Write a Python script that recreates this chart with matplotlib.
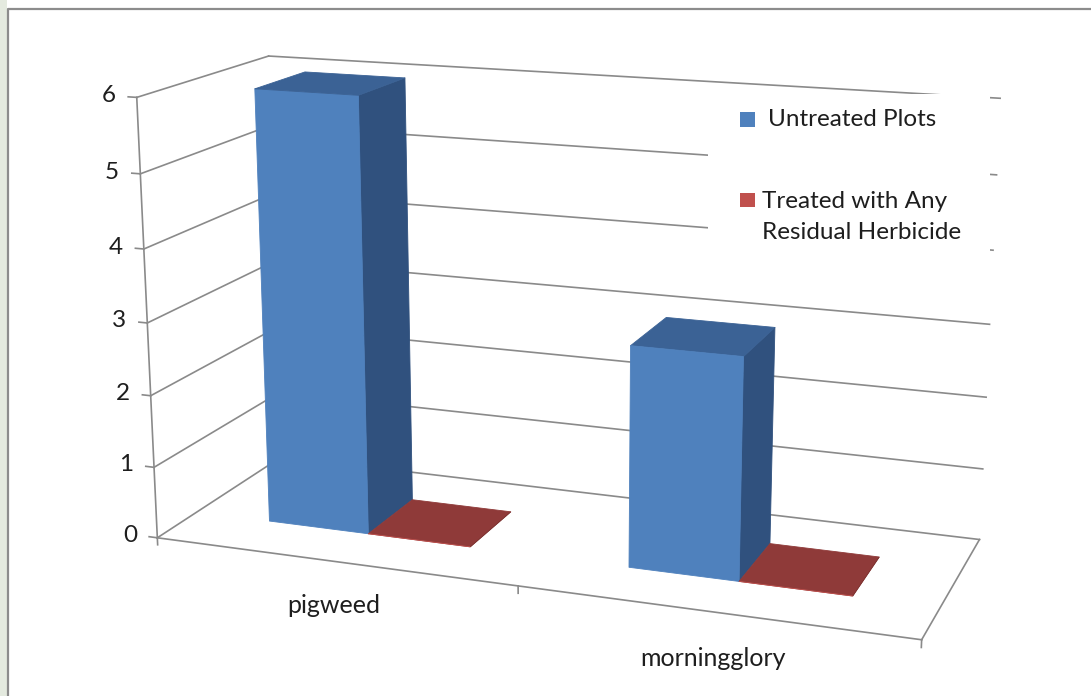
import numpy as np
import matplotlib
matplotlib.use("Agg")
import matplotlib.pyplot as plt
from matplotlib.patches import Rectangle
from matplotlib.lines import Line2D
from mpl_toolkits.mplot3d import proj3d

# ---- data -------------------------------------------------------------
categories = ["pigweed", "morningglory"]
series_labels = ["Untreated Plots", "Treated with Any\nResidual Herbicide"]
untreated = [6.0, 3.0]
treated = [0.0, 0.0]
value_ticks = [0, 1, 2, 3, 4, 5, 6]

# ---- style ------------------------------------------------------------
front_colors = ["#4F81BD", "#C0504D"]
top_colors = ["#3B6295", "#8F3A39"]
side_colors = ["#30517E", "#7A302E"]
grid_color = "#8A8A8A"
text_color = "#1E1E1E"

plt.rcParams["font.family"] = ["Lato", "DejaVu Sans"]

W_PX, H_PX = 1091, 696
fig = plt.figure(figsize=(W_PX / 100, H_PX / 100), dpi=100)
fig.patch.set_facecolor("white")


def fx(px):
    return px / W_PX


def fy(py):
    return 1 - py / H_PX


# slide strip and chart-area border
fig.patches.append(Rectangle((0, 0), fx(7), 1, transform=fig.transFigure,
                             facecolor="#E4EADF", edgecolor="none", zorder=0))
fig.add_artist(Line2D([fx(8), fx(8), 1], [0, fy(9), fy(9)],
                      transform=fig.transFigure, color="#8C8C8C", lw=1.6,
                      zorder=5))

# ---- 3-D plot area ----------------------------------------------------
gap_width = 1.5          # gap between clusters, as a fraction of bar width
gap_depth = 1.5
n_series = 2
bar_w = 1.0 / (n_series + gap_width)
depth = bar_w * (1 + gap_depth)
bar_y0 = bar_w * gap_depth / 2
height_ratio = 1.15      # box height relative to one category width
zoom = 1.336

ax = fig.add_axes([0.192, 0.0215, 0.64, 1], projection="3d", computed_zorder=False)
ax.set_axis_off()
ax.set_facecolor("none")

n_cat = len(categories)
vmax = value_ticks[-1]

ax.set_xlim(0, n_cat)
ax.set_ylim(0, depth)
ax.set_zlim(0, vmax)
ax.set_box_aspect((n_cat, depth, height_ratio), zoom=zoom)
ax.view_init(elev=15, azim=-70)
ax.set_proj_type("persp", focal_length=0.48 * zoom)
ax.autoscale(False)

line_kw = dict(color=grid_color, lw=1.2, zorder=1, clip_on=False)

# wall gridlines: back wall and left side wall
for v in value_ticks:
    ax.plot([0, n_cat], [depth, depth], [v, v], **line_kw)
    ax.plot([0, 0], [0, depth], [v, v], **line_kw)

# floor outline (front and right edges)
ax.plot([0, n_cat], [0, 0], [0, 0], **line_kw)
ax.plot([n_cat, n_cat], [0, depth], [0, 0], **line_kw)

# value axis line and tick marks
ax.plot([0, 0], [0, 0], [0, vmax], **line_kw)
for v in value_ticks:
    ax.plot([-0.024, 0], [0, 0], [v, v], **line_kw)

# category tick marks
for i in range(n_cat + 1):
    ax.plot([i, i], [0, 0], [0, -0.1], **line_kw)

# bars: faces ordered bottom, top, front, back, left, right
none = "none"
z = 3
for i in range(n_cat):
    for s, vals in enumerate([untreated, treated]):
        x0 = i + bar_w * gap_width / 2 + s * bar_w
        face = [none, top_colors[s], front_colors[s], none, none, side_colors[s]]
        ax.bar3d(x0, bar_y0, 0, bar_w, bar_w, vals[i], color=face,
                 edgecolors=face, linewidths=0.6, shade=False, zorder=z,
                 clip_on=False)
        z += 1

ax.set_xlim(0, n_cat)
ax.set_ylim(0, depth)
ax.set_zlim(0, vmax)

# tick labels, placed at the projected positions of their 3-D anchors
M = ax.get_proj()


def label_at(x, y, zv, s, **kw):
    px, py, _ = proj3d.proj_transform(x, y, zv, M)
    ax.text2D(px, py, s, transform=ax.transData, clip_on=False,
              color=text_color, zorder=10, **kw)


for v in value_ticks:
    label_at(-0.06, 0, v, f"{v}", ha="right", va="center", fontsize=17.5)
for i, cat in enumerate(categories):
    label_at(i + 0.5, 0, -0.62, cat, ha="center", va="center", fontsize=18)

# ---- legend -----------------------------------------------------------
leg_fs = 17.5
fig.patches.append(Rectangle((fx(708), fy(255)), fx(990) - fx(708), fy(94) - fy(255),
                             transform=fig.transFigure, facecolor="white",
                             edgecolor="none", zorder=6))
fig.patches.append(Rectangle((fx(740), fy(127)), fx(15), fy(112) - fy(127),
                             transform=fig.transFigure, facecolor=front_colors[0],
                             edgecolor="none", zorder=7))
fig.text(fx(768), fy(119), series_labels[0], ha="left", va="center",
         fontsize=leg_fs, color=text_color, zorder=7)
fig.patches.append(Rectangle((fx(740), fy(207)), fx(15), fy(193) - fy(207),
                             transform=fig.transFigure, facecolor=front_colors[1],
                             edgecolor="none", zorder=7))
fig.text(fx(762), fy(191), series_labels[1], ha="left", va="top",
         fontsize=leg_fs, color=text_color, linespacing=1.6, zorder=7)

fig.savefig("out.png", dpi=100, facecolor=fig.get_facecolor())
